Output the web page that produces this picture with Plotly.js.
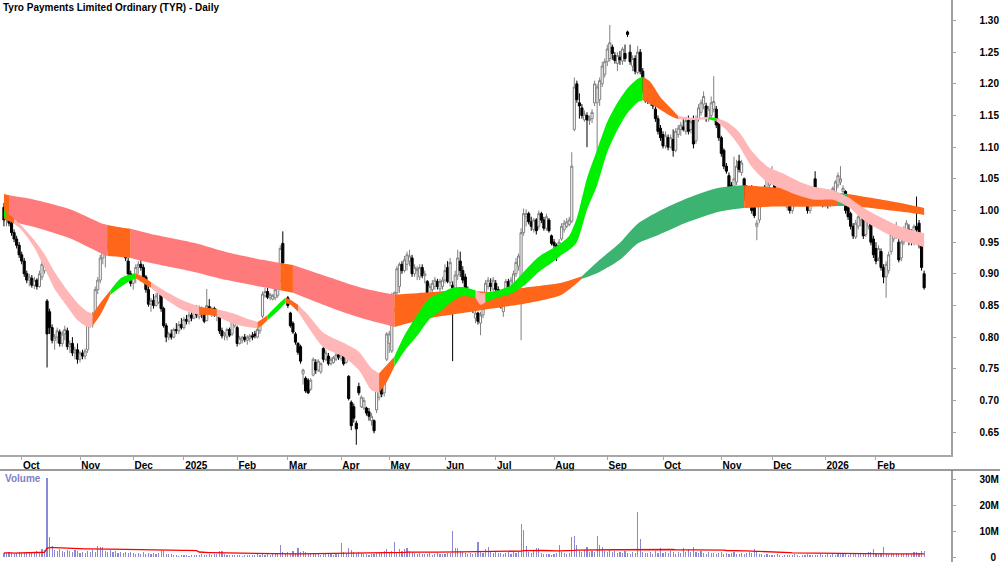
<!DOCTYPE html>
<html><head><meta charset="utf-8">
<script src="https://cdn.plot.ly/plotly-3.0.1.min.js"></script>
<style>html,body{margin:0;padding:0;background:#fff}#chart{width:1000px;height:562px}</style>
</head><body><div id="chart"></div>
<script>
// ---------- data ----------
const chartTitle = 'Tyro Payments Limited Ordinary (TYR) - Daily';
const firstDay = [2024, 9, 20], lastDay = [2026, 2, 27];
const asxHolidays = ['2024-12-25','2024-12-26','2025-01-01','2025-01-27','2025-04-18','2025-04-21','2025-04-25','2025-06-09','2025-12-25','2025-12-26','2026-01-01','2026-01-26'];
const monthKeys = ['2024-10','2024-11','2024-12','2025-01','2025-02','2025-03','2025-04','2025-05','2025-06','2025-07','2025-08','2025-09','2025-10','2025-11','2025-12','2026-01','2026-02'];
const monthLabels = ['Oct','Nov','Dec','2025','Feb','Mar','Apr','May','Jun','Jul','Aug','Sep','Oct','Nov','Dec','2026','Feb'];
const priceTicks = [0.65,0.70,0.75,0.80,0.85,0.90,0.95,1.00,1.05,1.10,1.15,1.20,1.25,1.30];
const volTicks = [0,10,20,30];
const volTickLabels = ['\u2007\u20070','10M','20M','30M'];

const open = [
1.005,0.985,0.998,0.980,0.965,0.955,0.945,0.930,0.920,0.900,
0.890,0.893,0.882,0.890,0.880,0.895,0.905,0.857,0.840,0.815,
0.795,0.800,0.808,0.790,0.805,0.810,0.785,0.790,0.775,0.780,
0.765,0.775,0.770,0.780,0.825,0.830,0.840,0.875,0.890,0.925,
0.930,0.950,0.940,0.952,0.940,0.955,0.938,0.950,0.940,0.920,
0.900,0.885,0.895,0.910,0.915,0.910,0.895,0.875,0.852,0.858,
0.850,0.855,0.870,0.845,0.818,0.800,0.805,0.800,0.812,0.810,
0.820,0.815,0.828,0.825,0.835,0.830,0.842,0.832,0.845,0.838,
0.826,0.848,0.840,0.845,0.835,0.838,0.810,0.802,0.800,0.812,
0.805,0.818,0.815,0.790,0.795,0.800,0.795,0.798,0.802,0.805,
0.800,0.810,0.833,0.865,0.872,0.862,0.860,0.862,0.866,0.890,
0.948,0.890,0.862,0.838,0.822,0.805,0.790,0.785,0.742,0.735,
0.732,0.718,0.740,0.760,0.748,0.745,0.782,0.765,0.770,0.758,
0.760,0.765,0.772,0.766,0.770,0.760,0.738,0.697,0.690,0.664,
0.722,0.690,0.688,0.688,0.682,0.668,0.668,0.685,0.705,0.728,
0.712,0.765,0.790,0.778,0.845,0.870,0.880,0.915,0.905,0.915,
0.920,0.925,0.900,0.905,0.895,0.910,0.897,0.888,0.866,0.875,
0.880,0.888,0.876,0.880,0.890,0.910,0.886,0.882,0.868,0.898,
0.920,0.905,0.895,0.875,0.865,0.852,0.830,0.838,0.822,0.835,
0.848,0.880,0.885,0.876,0.885,0.875,0.860,0.840,0.855,0.888,
0.872,0.885,0.900,0.912,0.890,0.965,0.990,0.995,0.982,0.970,
0.985,0.975,0.995,0.985,0.972,0.985,0.960,0.950,0.945,0.935,
0.955,0.970,0.975,0.978,0.983,1.128,1.200,1.170,1.162,1.143,
1.150,1.142,1.145,1.170,1.170,1.175,1.200,1.215,1.235,1.240,
1.258,1.245,1.232,1.242,1.236,1.248,1.282,1.250,1.228,1.240,
1.218,1.250,1.220,1.190,1.178,1.170,1.176,1.160,1.145,1.130,
1.120,1.102,1.115,1.100,1.112,1.095,1.120,1.128,1.132,1.125,
1.142,1.128,1.145,1.110,1.145,1.155,1.168,1.165,1.145,1.150,
1.160,1.160,1.140,1.115,1.095,1.070,1.055,1.040,1.020,1.045,
1.078,1.060,1.050,1.035,1.030,1.035,1.005,0.975,0.985,1.015,
1.035,1.030,1.040,1.050,1.050,1.038,1.035,1.040,1.025,1.005,
1.012,1.000,1.010,1.015,1.025,1.020,1.030,1.015,1.000,1.020,
1.050,1.015,1.025,1.018,1.012,1.015,1.008,1.020,1.030,1.040,
1.045,1.030,1.030,1.005,0.995,0.975,0.958,0.975,0.985,0.990,
0.962,0.975,0.980,0.955,0.940,0.925,0.935,0.910,0.895,0.905,
0.935,0.955,0.960,0.950,0.925,0.950,0.965,0.970,0.965,0.950,
0.975,0.980,0.945,0.900];
const high = [
1.012,1.005,1.000,0.985,0.970,0.960,0.950,0.935,0.925,0.905,
0.900,0.898,0.895,0.893,0.905,0.925,0.930,0.860,0.845,0.820,
0.805,0.815,0.812,0.810,0.818,0.815,0.795,0.800,0.785,0.790,
0.778,0.780,0.782,0.830,0.838,0.840,0.880,0.895,0.930,0.955,
0.960,0.975,0.958,0.960,0.955,0.960,0.955,0.958,0.945,0.925,
0.905,0.900,0.915,0.920,0.935,0.915,0.898,0.880,0.862,0.868,
0.870,0.878,0.875,0.848,0.822,0.808,0.812,0.815,0.822,0.825,
0.830,0.832,0.835,0.840,0.845,0.848,0.850,0.850,0.848,0.842,
0.876,0.860,0.848,0.848,0.845,0.840,0.815,0.808,0.815,0.815,
0.830,0.835,0.818,0.802,0.802,0.805,0.803,0.805,0.808,0.810,
0.815,0.825,0.872,0.878,0.878,0.870,0.868,0.878,0.898,0.945,
0.967,0.892,0.865,0.840,0.825,0.808,0.792,0.788,0.750,0.738,
0.735,0.735,0.768,0.765,0.765,0.760,0.785,0.780,0.775,0.768,
0.770,0.775,0.776,0.775,0.772,0.775,0.740,0.700,0.695,0.668,
0.728,0.708,0.705,0.690,0.688,0.680,0.670,0.720,0.735,0.738,
0.740,0.808,0.810,0.870,0.872,0.912,0.918,0.920,0.928,0.935,
0.938,0.930,0.915,0.912,0.915,0.915,0.905,0.890,0.885,0.890,
0.895,0.892,0.892,0.895,0.915,0.920,0.925,0.888,0.905,0.938,
0.935,0.912,0.900,0.880,0.868,0.856,0.842,0.840,0.840,0.850,
0.890,0.895,0.893,0.895,0.890,0.880,0.862,0.855,0.892,0.892,
0.895,0.905,0.925,0.932,0.972,1.003,1.002,0.998,0.990,0.988,
0.988,1.000,0.998,0.990,0.995,0.988,0.962,0.955,0.948,0.955,
0.980,0.985,0.988,0.990,1.092,1.210,1.205,1.185,1.168,1.158,
1.155,1.150,1.160,1.205,1.200,1.210,1.235,1.240,1.262,1.293,
1.262,1.250,1.250,1.252,1.258,1.262,1.284,1.262,1.245,1.245,
1.260,1.255,1.225,1.195,1.185,1.180,1.178,1.165,1.150,1.135,
1.125,1.125,1.120,1.120,1.128,1.130,1.135,1.140,1.145,1.148,
1.150,1.145,1.150,1.150,1.168,1.175,1.188,1.170,1.165,1.180,
1.212,1.165,1.145,1.118,1.098,1.075,1.060,1.045,1.085,1.080,
1.088,1.080,1.052,1.040,1.035,1.040,1.008,0.985,1.025,1.035,
1.040,1.062,1.065,1.070,1.055,1.045,1.045,1.042,1.030,1.020,
1.015,1.020,1.030,1.035,1.030,1.038,1.035,1.018,1.030,1.030,
1.062,1.035,1.032,1.022,1.020,1.020,1.028,1.038,1.048,1.060,
1.070,1.040,1.032,1.010,0.998,0.980,0.985,0.995,0.998,0.993,
0.992,0.990,0.985,0.960,0.950,0.945,0.940,0.915,0.920,0.935,
0.968,0.975,0.982,0.955,0.958,0.975,0.985,0.978,0.970,0.978,
1.022,0.985,0.950,0.905];
const low = [
0.975,0.975,0.975,0.960,0.950,0.940,0.925,0.915,0.895,0.885,
0.880,0.878,0.876,0.875,0.878,0.890,0.900,0.752,0.805,0.790,
0.780,0.790,0.785,0.785,0.795,0.780,0.775,0.770,0.765,0.758,
0.760,0.765,0.765,0.775,0.815,0.815,0.835,0.868,0.885,0.915,
0.910,0.935,0.930,0.935,0.935,0.935,0.935,0.935,0.920,0.895,
0.880,0.875,0.885,0.900,0.905,0.890,0.870,0.848,0.840,0.845,
0.848,0.852,0.840,0.815,0.792,0.795,0.796,0.798,0.805,0.805,
0.812,0.812,0.820,0.820,0.825,0.828,0.830,0.828,0.830,0.822,
0.825,0.835,0.832,0.832,0.825,0.805,0.798,0.795,0.795,0.800,
0.802,0.815,0.785,0.788,0.790,0.792,0.788,0.792,0.795,0.798,
0.798,0.805,0.830,0.862,0.860,0.858,0.858,0.858,0.862,0.888,
0.912,0.873,0.846,0.815,0.805,0.788,0.772,0.758,0.725,0.712,
0.710,0.715,0.738,0.742,0.745,0.742,0.760,0.762,0.755,0.755,
0.758,0.762,0.764,0.762,0.755,0.758,0.700,0.653,0.665,0.630,
0.708,0.688,0.685,0.676,0.668,0.660,0.648,0.680,0.700,0.705,
0.706,0.762,0.775,0.775,0.840,0.865,0.870,0.900,0.902,0.905,
0.912,0.895,0.895,0.890,0.890,0.893,0.885,0.863,0.862,0.870,
0.875,0.875,0.872,0.875,0.885,0.885,0.880,0.762,0.862,0.890,
0.895,0.885,0.870,0.860,0.845,0.838,0.822,0.820,0.803,0.830,
0.845,0.875,0.872,0.872,0.868,0.855,0.845,0.832,0.852,0.868,
0.868,0.880,0.895,0.905,0.795,0.960,0.975,0.978,0.968,0.965,
0.962,0.970,0.980,0.968,0.968,0.965,0.945,0.940,0.920,0.928,
0.952,0.965,0.972,0.975,0.980,1.125,1.170,1.145,1.145,1.140,
1.100,1.135,1.138,1.165,1.050,1.165,1.195,1.210,1.228,1.235,
1.238,1.232,1.220,1.230,1.230,1.235,1.274,1.230,1.220,1.215,
1.215,1.215,1.185,1.170,1.168,1.165,1.160,1.140,1.120,1.110,
1.098,1.098,1.095,1.098,1.085,1.092,1.115,1.118,1.125,1.120,
1.120,1.122,1.098,1.105,1.140,1.150,1.160,1.140,1.140,1.145,
1.155,1.130,1.110,1.085,1.065,1.058,1.005,1.012,1.015,1.040,
1.060,1.055,1.015,1.005,1.015,0.995,0.988,0.953,0.980,1.010,
1.020,1.025,1.035,1.045,1.030,1.030,1.032,1.018,1.010,1.000,
0.995,0.995,1.005,1.010,1.010,1.015,1.010,0.995,0.995,1.010,
1.012,1.010,1.012,1.005,1.005,1.003,1.005,1.015,1.025,1.035,
1.040,1.015,0.995,0.985,0.970,0.955,0.955,0.970,0.975,0.955,
0.958,0.970,0.945,0.925,0.915,0.920,0.905,0.885,0.862,0.900,
0.930,0.950,0.955,0.918,0.920,0.945,0.960,0.945,0.945,0.945,
0.960,0.940,0.905,0.875];
const close = [
0.985,0.998,0.980,0.965,0.955,0.945,0.930,0.920,0.900,0.890,
0.895,0.882,0.890,0.880,0.900,0.915,0.920,0.805,0.815,0.795,
0.800,0.810,0.790,0.805,0.812,0.785,0.790,0.775,0.780,0.765,
0.775,0.770,0.778,0.825,0.832,0.835,0.875,0.890,0.925,0.945,
0.950,0.940,0.952,0.940,0.950,0.938,0.950,0.940,0.925,0.900,
0.885,0.895,0.910,0.915,0.910,0.895,0.875,0.852,0.858,0.850,
0.865,0.872,0.845,0.818,0.800,0.805,0.800,0.812,0.810,0.820,
0.815,0.828,0.825,0.835,0.830,0.842,0.835,0.845,0.838,0.825,
0.850,0.840,0.845,0.835,0.840,0.810,0.802,0.805,0.812,0.803,
0.825,0.830,0.790,0.798,0.800,0.796,0.800,0.802,0.800,0.802,
0.812,0.822,0.868,0.872,0.863,0.867,0.866,0.875,0.894,0.940,
0.917,0.876,0.850,0.818,0.808,0.792,0.776,0.762,0.748,0.715,
0.712,0.732,0.765,0.748,0.762,0.758,0.765,0.775,0.758,0.765,
0.768,0.772,0.768,0.772,0.758,0.772,0.703,0.660,0.672,0.655,
0.712,0.705,0.700,0.680,0.675,0.675,0.652,0.716,0.730,0.710,
0.735,0.805,0.805,0.865,0.870,0.908,0.915,0.905,0.922,0.930,
0.928,0.900,0.910,0.908,0.910,0.897,0.900,0.866,0.880,0.885,
0.890,0.880,0.888,0.890,0.905,0.888,0.918,0.868,0.898,0.925,
0.905,0.890,0.875,0.865,0.850,0.842,0.838,0.825,0.835,0.845,
0.885,0.890,0.880,0.890,0.875,0.858,0.848,0.852,0.888,0.872,
0.890,0.900,0.918,0.928,0.965,0.995,0.995,0.982,0.975,0.985,
0.968,0.995,0.985,0.972,0.990,0.968,0.948,0.945,0.935,0.950,
0.975,0.980,0.982,0.985,1.070,1.195,1.175,1.165,1.150,1.152,
1.143,1.145,1.155,1.200,1.195,1.205,1.228,1.235,1.255,1.265,
1.248,1.237,1.245,1.238,1.255,1.240,1.278,1.235,1.240,1.220,
1.250,1.220,1.190,1.175,1.172,1.176,1.165,1.145,1.125,1.115,
1.102,1.118,1.100,1.115,1.095,1.125,1.130,1.135,1.128,1.142,
1.125,1.140,1.105,1.145,1.162,1.170,1.180,1.145,1.160,1.170,
1.172,1.135,1.115,1.090,1.070,1.062,1.030,1.018,1.050,1.070,
1.065,1.075,1.020,1.010,1.020,1.000,0.992,0.980,1.020,1.030,
1.025,1.058,1.060,1.055,1.035,1.042,1.040,1.022,1.012,1.015,
1.000,1.015,1.025,1.030,1.015,1.035,1.012,1.000,1.025,1.025,
1.015,1.030,1.018,1.010,1.015,1.008,1.025,1.035,1.045,1.055,
1.050,1.035,1.000,0.990,0.975,0.960,0.980,0.990,0.993,0.960,
0.985,0.985,0.950,0.930,0.920,0.940,0.910,0.895,0.915,0.930,
0.962,0.970,0.975,0.922,0.950,0.970,0.980,0.960,0.950,0.975,
0.970,0.945,0.910,0.878];
// volume, millions of shares
const volumeM = [
1.6,1.4,1.8,1.5,1.3,1.7,2.0,1.5,1.6,1.9,1.4,1.8,1.6,2.4,1.9,3.0,2.6,
30.5,7.8,4.2,
2.8,2.2,3.0,2.5,2.0,2.7,2.4,1.8,2.6,2.2,1.6,2.0,1.5,2.3,1.8,2.6,2.1,
4.2,3.7,4.0,
2.4,2.0,2.8,1.9,2.3,1.7,2.1,1.6,1.9,1.4,1.8,1.5,1.2,1.6,1.3,1.8,1.1,1.5,1.0,1.4,1.2,1.6,
2.7,2.5,
1.3,1.0,1.2,0.6,0.8,0.5,0.7,0.6,0.8,0.5,0.9,0.7,0.6,0.8,1.0,0.9,0.7,1.1,0.9,1.2,1.0,
2.4,2.3,
1.0,0.8,0.7,0.9,0.6,0.8,0.7,0.5,0.9,0.6,0.8,0.7,0.6,1.0,0.9,1.2,0.8,1.1,0.9,1.3,1.5,1.2,
4.6,
1.8,1.5,2.0,1.4,2.3,1.6,3.6,2.1,2.5,1.8,1.2,1.6,1.4,1.1,1.3,0.9,1.5,1.2,1.0,1.4,0.8,1.1,1.2,5.3,1.9,1.4,3.3,
2.6,1.8,1.6,1.9,1.5,1.2,1.0,0.9,1.3,1.1,1.4,1.6,1.8,2.2,
2.9,2.0,2.4,5.6,
2.0,2.9,2.5,3.2,3.6,2.2,
1.8,1.5,1.2,1.6,1.0,1.3,1.1,1.4,0.9,1.2,1.5,1.0,1.3,1.1,1.6,1.4,
10.0,
3.6,3.6,2.2,1.8,1.5,1.3,1.6,1.2,1.4,
5.8,
2.0,1.6,3.1,4.0,1.8,1.5,1.9,1.4,1.7,1.2,1.5,1.9,1.3,2.1,1.6,2.2,
12.8,10.3,4.2,
2.0,1.7,2.4,3.3,3.6,1.5,1.2,1.0,1.3,0.9,1.1,1.4,
4.7,
1.9,1.4,1.2,1.6,
7.6,8.0,4.7,
2.2,1.8,2.6,3.7,1.9,2.5,2.1,
8.1,4.5,3.7,
2.3,1.9,2.6,1.8,2.2,1.5,2.0,1.7,2.4,1.6,1.3,1.9,1.4,
17.2,7.0,
2.0,1.6,1.4,1.8,1.3,2.2,1.7,
3.3,
1.5,2.0,1.6,2.4,1.8,1.3,1.9,1.6,
3.3,2.0,2.9,1.8,3.8,
1.8,1.5,2.2,1.6,1.3,1.9,1.4,1.7,1.2,1.5,1.8,1.3,1.6,1.1,1.4,1.9,1.2,1.0,1.5,1.3,1.7,2.0,1.6,
3.0,
1.8,1.2,1.0,0.8,1.1,0.7,0.9,0.6,1.0,0.8,0.5,0.7,0.9,0.6,0.8,1.0,0.7,0.5,0.8,0.6,
1.1,0.9,0.7,0.6,0.8,1.0,0.9,0.7,1.1,0.8,1.2,0.9,1.3,1.0,1.4,1.1,0.9,1.2,1.5,1.0,
1.3,1.1,1.4,1.0,2.0,
1.8,3.0,
1.4,1.2,1.6,
3.7,
1.5,1.3,1.6,1.1,1.4,1.2,1.0,1.3,1.5,1.1,1.2,1.8,2.0,1.6,2.2,2.4];
const volumeAvgWindow = 60;

// long-term trend ribbon: trading-session number, upper and lower edge
const longSession = [0,2,12,26,39,41,45,50,58,75,88,102,109,114,128,141,154,168,181,194,207,220,228,235,243,250,258,270,282,292,302,315,329,333,342,352,363];
const longUpper = [1.026,1.024,1.017,1.002,0.979,0.977,0.974,0.971,0.963,0.949,0.934,0.922,0.917,0.914,0.895,0.878,0.867,0.871,0.874,0.871,0.879,0.886,0.896,0.922,0.949,0.979,0.998,1.020,1.036,1.040,1.037,1.032,1.028,1.026,1.020,1.013,1.004];
const longLower = [0.987,0.983,0.974,0.956,0.931,0.928,0.927,0.925,0.917,0.903,0.890,0.879,0.874,0.870,0.848,0.830,0.816,0.830,0.838,0.846,0.854,0.867,0.892,0.903,0.922,0.948,0.961,0.982,0.998,1.004,1.006,1.006,1.007,1.007,1.004,0.999,0.993];
const longTurn = [0,2,41,50,109,114,154,228,292,329,333];
const longTrend = ['mixed','down','mixed','down','mixed','down','mixed','up','mixed','up','mixed'];

// short-term trend ribbon
const shortSession = [0,1,4,7,12,16,20,25,29,33,35,38,42,46,49,52,55,58,63,70,77,81,84,90,96,100,102,104,108,111,113,116,120,126,134,140,145,148,151,154,158,163,168,173,177,181,186,188,190,195,200,205,211,216,220,223,226,230,234,238,242,246,250,252,255,259,263,266,272,278,281,285,290,295,301,307,314,320,327,333,340,347,354,363];
const shortUpper = [1.001,0.998,0.987,0.976,0.953,0.931,0.903,0.874,0.854,0.840,0.837,0.854,0.874,0.893,0.898,0.901,0.895,0.887,0.874,0.859,0.848,0.846,0.844,0.838,0.829,0.824,0.829,0.835,0.851,0.862,0.859,0.851,0.835,0.807,0.791,0.777,0.751,0.743,0.756,0.769,0.803,0.835,0.862,0.871,0.878,0.879,0.874,0.870,0.870,0.874,0.882,0.903,0.927,0.939,0.949,0.960,0.988,1.051,1.096,1.140,1.170,1.193,1.208,1.211,1.203,1.179,1.162,1.149,1.146,1.148,1.146,1.140,1.124,1.094,1.070,1.059,1.045,1.037,1.032,1.021,1.002,0.987,0.974,0.964];
const shortLower = [0.988,0.987,0.979,0.969,0.941,0.909,0.876,0.848,0.827,0.816,0.818,0.835,0.867,0.879,0.887,0.893,0.885,0.878,0.862,0.844,0.835,0.835,0.833,0.822,0.816,0.814,0.819,0.827,0.841,0.854,0.851,0.840,0.816,0.784,0.769,0.748,0.716,0.712,0.729,0.753,0.778,0.802,0.829,0.843,0.857,0.865,0.862,0.851,0.855,0.863,0.868,0.881,0.903,0.917,0.930,0.938,0.950,1.001,1.040,1.092,1.127,1.154,1.171,1.174,1.168,1.159,1.149,1.144,1.143,1.144,1.141,1.127,1.102,1.069,1.045,1.034,1.023,1.017,1.017,1.006,0.982,0.966,0.953,0.942];
const shortTurn = [0,1,4,35,42,52,58,77,84,100,104,111,116,148,154,186,190,252,266,278,281];
const shortTrend = ['up','mixed','down','mixed','up','mixed','down','mixed','down','mixed','up','mixed','down','mixed','up','down','up','mixed','down','up','down'];

// ---------- build ----------
function isoDate(d){ return d.toISOString().slice(0,10); }
function tradingDays(){
  const out = [];
  const d = new Date(Date.UTC(firstDay[0], firstDay[1]-1, firstDay[2]));
  const end = Date.UTC(lastDay[0], lastDay[1]-1, lastDay[2]);
  while (d.getTime() <= end) {
    const wd = d.getUTCDay(), s = isoDate(d);
    if (wd !== 0 && wd !== 6 && asxHolidays.indexOf(s) < 0) out.push(s);
    d.setUTCDate(d.getUTCDate()+1);
  }
  return out;
}
const days = tradingDays();
const session = days.map((d,i)=>i);
const tickSessions = monthKeys.map(k => days.findIndex(d => d.slice(0,7) === k));

const longColors = {up:'#3cb371', mixed:'#ff6619', down:'#ff7a7a'};
const shortColors = {up:'#00f000', mixed:'#ff6619', down:'#ffb6b6'};

const traces = [];
function addRibbon(sess, up, lo, turns, trend, colors){
  const last = sess[sess.length-1];
  for (let s = 0; s < turns.length; s++){
    const a = turns[s], b = (s+1 < turns.length) ? turns[s+1] : last;
    const xs=[], ylo=[], yhi=[];
    sess.forEach((v,k)=>{ if (v>=a && v<=b){ xs.push(v); ylo.push(Math.min(up[k],lo[k])); yhi.push(Math.max(up[k],lo[k])); } });
    const ln = {width:0, shape:'spline', smoothing:0.7};
    traces.push({type:'scatter', mode:'lines', x:xs, y:ylo, line:ln, hoverinfo:'skip', showlegend:false, xaxis:'x', yaxis:'y'});
    traces.push({type:'scatter', mode:'lines', x:xs, y:yhi, line:ln, fill:'tonexty', fillcolor:colors[trend[s]], hoverinfo:'skip', showlegend:false, xaxis:'x', yaxis:'y'});
  }
}
addRibbon(longSession, longUpper, longLower, longTurn, longTrend, longColors);
addRibbon(shortSession, shortUpper, shortLower, shortTurn, shortTrend, shortColors);

traces.push({
  type:'candlestick', x:session, open:open, high:high, low:low, close:close,
  increasing:{line:{color:'#808080', width:1}, fillcolor:'#ffffff'},
  decreasing:{line:{color:'#000000', width:1}, fillcolor:'#000000'},
  whiskerwidth:0, hoverinfo:'skip', showlegend:false, xaxis:'x', yaxis:'y'
});

const volAvg = volumeM.map((v,i)=>{
  const s = Math.max(0, i-volumeAvgWindow+1); let sum = 0;
  for (let k=s; k<=i; k++) sum += volumeM[k];
  return sum/(i-s+1);
});
traces.push({type:'bar', x:session, y:volumeM, width:0.45, marker:{color:'#8a8ad2', line:{width:0}}, hoverinfo:'skip', showlegend:false, xaxis:'x2', yaxis:'y2'});
traces.push({type:'scatter', mode:'lines', x:session, y:volAvg, line:{color:'#ff0000', width:1.3}, hoverinfo:'skip', showlegend:false, xaxis:'x2', yaxis:'y2'});

const H = 562, plotW = 951;
const xRange = [-1.56, 373.6];
const fontFam = '"Liberation Sans", Arial, sans-serif';
const boldFont = {family:fontFam, size:10, color:'#000', weight:'bold'};

const layout = {
  width:1000, height:562, margin:{l:0, r:49, t:0, b:0},
  paper_bgcolor:'#ffffff', plot_bgcolor:'#ffffff', showlegend:false, bargap:0,
  boxgap:0.12, boxgroupgap:0.05,
  font:{family:fontFam, size:10, color:'#000'},
  title:{text:chartTitle, font:boldFont, x:0.003, xref:'container', xanchor:'left', y:1-7.5/H, yref:'container', yanchor:'middle'},
  xaxis:{domain:[0,1], range:xRange, anchor:'y', showgrid:false, zeroline:false,
    showline:true, linecolor:'#a8a8a8', linewidth:1.5, ticks:'outside', ticklen:3, tickcolor:'#a8a8a8', tickwidth:1,
    tickvals:tickSessions, ticktext:monthLabels, ticklabelposition:'outside right', tickfont:boldFont,
    rangeslider:{visible:false}, fixedrange:true},
  yaxis:{domain:[1-455/H, 1], range:[0.6138, 1.3324], anchor:'x', side:'right', showgrid:false, zeroline:false,
    showline:true, linecolor:'#a0a0a0', linewidth:1.5, ticks:'outside', ticklen:3, tickcolor:'#a0a0a0',
    tickvals:priceTicks, ticktext:priceTicks.map(v=>v.toFixed(2)), tickfont:boldFont, ticklabelstandoff:22, fixedrange:true},
  xaxis2:{domain:[0,1], range:xRange, anchor:'y2', showgrid:false, zeroline:false, showline:false, ticks:'', showticklabels:false, fixedrange:true},
  yaxis2:{domain:[0, 92/H], range:[-1.92, 33.46], anchor:'x2', side:'right', showgrid:false, zeroline:false,
    showline:true, linecolor:'#a0a0a0', linewidth:1.5, ticks:'outside', ticklen:3, tickcolor:'#a0a0a0',
    tickvals:volTicks, ticktext:volTickLabels, tickfont:boldFont, ticklabelstandoff:22, ticklabeloverflow:'allow', fixedrange:true},
  shapes:[{type:'line', xref:'paper', yref:'paper', x0:0, x1:1000/plotW, y0:92/H, y1:92/H, line:{color:'#7a7a7a', width:1.5}}],
  annotations:[{text:'Volume', xref:'paper', yref:'paper', x:3/plotW, y:1-478.5/H, xanchor:'left', yanchor:'middle', showarrow:false,
    font:{family:fontFam, size:10, color:'#7f7fc4', weight:'bold'}}]
};
Plotly.newPlot('chart', traces, layout, {displayModeBar:false, staticPlot:true});
</script>
</body></html>
